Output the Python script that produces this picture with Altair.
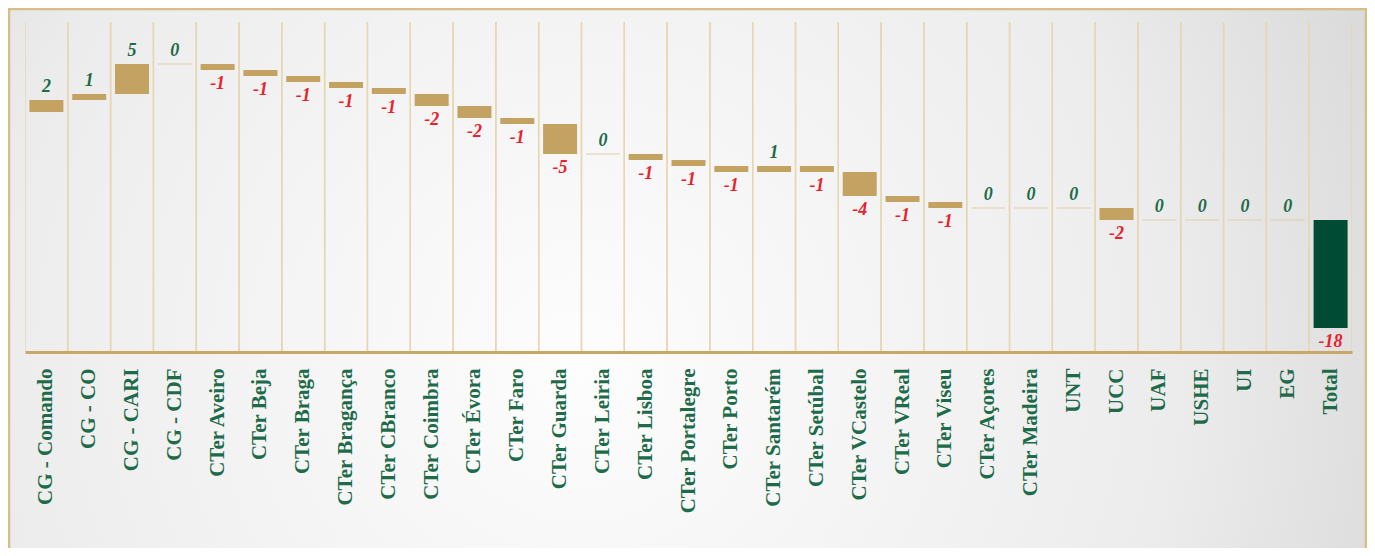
import altair as alt
import pandas as pd

categories = ["CG - Comando", "CG - CO", "CG - CARI", "CG - CDF", "CTer Aveiro", "CTer Beja",
              "CTer Braga", "CTer Bragança", "CTer CBranco", "CTer Coimbra", "CTer Évora",
              "CTer Faro", "CTer Guarda", "CTer Leiria", "CTer Lisboa", "CTer Portalegre",
              "CTer Porto", "CTer Santarém", "CTer Setúbal", "CTer VCastelo", "CTer VReal",
              "CTer Viseu", "CTer Açores", "CTer Madeira", "UNT", "UCC", "UAF", "USHE", "UI", "EG"]
values = [2, 1, 5, 0, -1, -1, -1, -1, -1, -2, -2, -1, -5, 0, -1, -1, -1, 1, -1, -4, -1, -1,
          0, 0, 0, -2, 0, 0, 0, 0]
total_label = "Total"
total_value = -18

rows = []
level = 0
for c, v in zip(categories, values):
    rows.append({"cat": c, "value": v, "start": level, "end": level + v, "kind": "step"})
    level += v
rows.append({"cat": total_label, "value": total_value, "start": level, "end": level + total_value,
             "kind": "total"})
df = pd.DataFrame(rows)
df["hi"] = df[["start", "end"]].max(axis=1)
df["lo"] = df[["start", "end"]].min(axis=1)
df["label"] = df["value"].astype(str)

order = categories + [total_label]
W, H = 1327, 330
STEP = W / len(order)

x = alt.X("cat:N", sort=order, title=None,
          scale=alt.Scale(paddingInner=0, paddingOuter=0),
          axis=alt.Axis(labelAngle=-90, labelFont="Liberation Serif", labelFontWeight="bold",
                        labelFontSize=21, labelColor="#1d6b48", labelPadding=16, ticks=False,
                        domainColor="#c9a867", domainWidth=3, grid=False, labelLimit=300,
                        zindex=1))
yscale = alt.Scale(domain=[-40, 15], nice=False, zero=False)

base = alt.Chart(df)

frame_df = pd.DataFrame({"a": [0]})
bg = alt.Chart(frame_df).mark_rect(
    fill=alt.Gradient(gradient="radial",
                      stops=[alt.GradientStop(color="#fdfdfd", offset=0),
                             alt.GradientStop(color="#ececec", offset=0.55),
                             alt.GradientStop(color="#cbcbcb", offset=1)],
                      x1=0.42, y1=0.55, x2=0.42, y2=0.55, r1=0, r2=0.8),
    stroke="#d8bd85", strokeWidth=2.5
).encode(x=alt.value(-16), x2=alt.value(1341), y=alt.value(-13), y2=alt.value(560))

grid = base.mark_bar(size=STEP, clip=True, fill="transparent", stroke="#e6d6b2",
                     strokeWidth=1.4).encode(
    x=alt.X("cat:N", sort=order), y=alt.value(-60), y2=alt.value(H)
)

bars = base.mark_bar(size=34, strokeWidth=1.2).encode(
    x=x,
    y=alt.Y("start:Q", scale=yscale, axis=None),
    y2="end:Q",
    color=alt.Color("kind:N", scale=alt.Scale(domain=["step", "total"],
                                              range=["#c4a262", "#004b33"]), legend=None),
    stroke=alt.condition("datum.value == 0", alt.value("#e0cfa8"), alt.value("transparent")),
)

pos_labels = base.transform_filter("datum.value >= 0").mark_text(
    font="Liberation Serif", fontStyle="italic", fontWeight="bold", fontSize=18,
    color="#1d6b48", baseline="bottom", dy=-4
).encode(x=alt.X("cat:N", sort=order), y=alt.Y("hi:Q", scale=yscale), text="label:N")

neg_labels = base.transform_filter("datum.value < 0").mark_text(
    font="Liberation Serif", fontStyle="italic", fontWeight="bold", fontSize=18,
    color="#e8222c", baseline="top", dy=5
).encode(x=alt.X("cat:N", sort=order), y=alt.Y("lo:Q", scale=yscale), text="label:N")

chart = alt.layer(bg, grid, bars, pos_labels, neg_labels).properties(
    width=W, height=H,
    autosize=alt.AutoSizeParams(type="none"),
    padding={"left": 17, "top": 14, "right": 15, "bottom": 196},
).configure(background="#e2e2e2").configure_view(strokeWidth=0)

chart.save("out.html", embed_options={"renderer": "svg", "actions": False})
